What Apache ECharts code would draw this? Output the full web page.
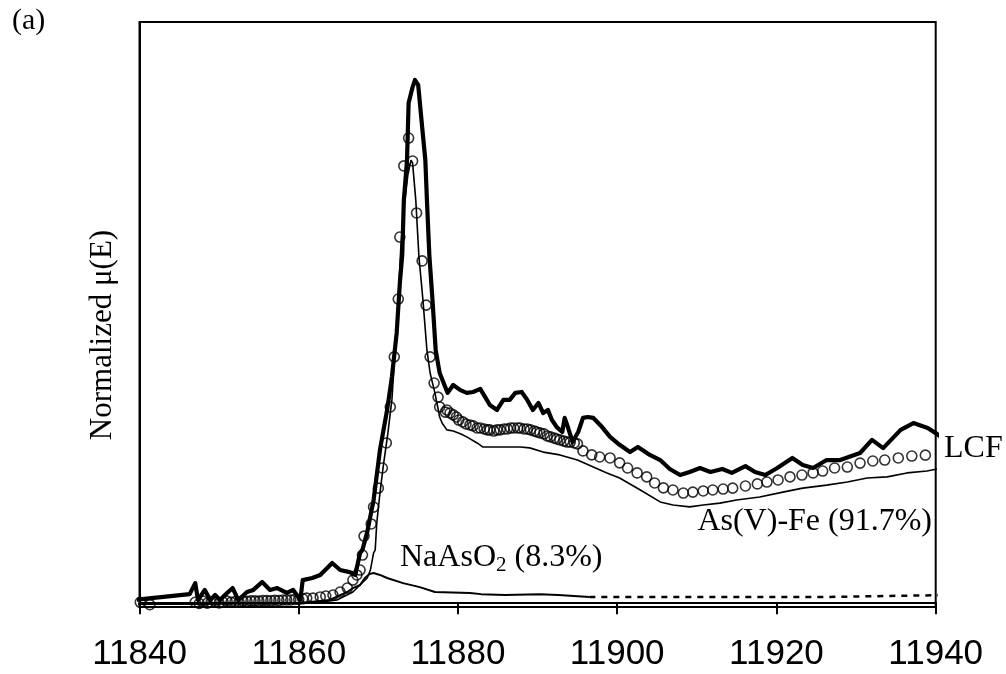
<!DOCTYPE html>
<html>
<head>
<meta charset="utf-8">
<script src="https://cdn.jsdelivr.net/npm/echarts@6/dist/echarts.min.js"></script>
<style>html,body{margin:0;padding:0;background:#fff}#c{width:1006px;height:674px}</style>
</head>
<body>
<div id="c"></div>
<script>
// X tick labels (eV)
const xTicks = [11840, 11860, 11880, 11900, 11920, 11940];

// Sample spectrum (thick solid line): [energy eV, normalized mu(E)]
const sampleData = [
 [11839.2,0.01],[11846.3,0.035],[11847.0,0.082],[11847.35,0.01],[11848.2,0.053],[11848.9,0.01],
 [11849.5,0.031],[11850.1,0.01],[11851.0,0.04],[11851.7,0.061],[11852.4,0.01],[11853.5,0.044],
 [11854.3,0.053],[11855.4,0.087],[11856.4,0.053],[11857.3,0.061],[11858.5,0.04],[11859.3,0.053],
 [11860.2,0.01],[11860.5,0.095],[11861.7,0.104],[11862.7,0.117],[11864.2,0.168],[11865.2,0.138],
 [11866.4,0.129],[11867.1,0.117],[11867.7,0.211],[11868.0,0.224],[11868.6,0.30],[11869.4,0.437],
 [11870.2,0.651],[11871.1,0.822],[11871.7,0.963],[11872.3,1.151],[11872.7,1.365],[11873.0,1.485],
 [11873.2,1.719],[11873.6,1.890],[11873.8,2.134],[11874.3,2.202],[11874.6,2.232],[11875.0,2.211],
 [11875.1,2.176],[11875.5,2.031],[11875.9,1.890],[11876.1,1.719],[11876.4,1.485],[11876.8,1.292],
 [11877.2,1.078],[11877.7,0.980],[11878.4,0.920],[11878.7,0.895],[11879.4,0.929],[11880.3,0.907],
 [11881.1,0.895],[11881.9,0.899],[11882.8,0.912],[11883.4,0.878],[11884.0,0.843],[11884.9,0.822],
 [11885.7,0.865],[11886.5,0.865],[11887.2,0.895],[11888.0,0.899],[11888.7,0.865],[11889.4,0.822],
 [11890.1,0.852],[11890.7,0.809],[11891.3,0.822],[11891.8,0.779],[11892.4,0.749],[11893.1,0.728],
 [11893.4,0.788],[11893.8,0.749],[11894.4,0.685],[11895.1,0.728],[11895.7,0.788],[11896.3,0.792],
 [11897.0,0.788],[11898.1,0.749],[11899.1,0.707],[11900.3,0.673],[11901.6,0.642],[11902.6,0.664],
 [11904.1,0.630],[11905.4,0.608],[11906.6,0.570],[11907.9,0.544],[11909.1,0.557],[11910.4,0.574],
 [11911.7,0.557],[11913.2,0.570],[11914.4,0.553],[11916.1,0.582],[11917.3,0.557],[11918.6,0.544],
 [11920.1,0.574],[11922.0,0.617],[11923.3,0.587],[11924.6,0.574],[11926.3,0.608],[11928.0,0.608],
 [11930.5,0.638],[11932.0,0.694],[11933.4,0.659],[11935.6,0.737],[11937.2,0.766],[11939.0,0.745],
 [11940.0,0.723],[11940.7,0.707]
];

// LCF fit (open circles)
const lcfData = [
 [11840.1,0.0],[11841.3,-0.01],[11847.0,0.0],[11847.5,-0.005],[11848.0,0.005],[11848.5,-0.004],
 [11849.0,0.0],[11849.5,0.004],[11850.0,-0.003],[11850.5,0.0],[11851.0,0.005],[11851.5,0.0],
 [11852.0,0.003],[11852.5,0.0],[11853.0,0.005],[11853.5,0.004],[11854.0,0.006],[11854.5,0.006],
 [11855.0,0.005],[11855.5,0.008],[11856.0,0.008],[11856.5,0.007],[11857.0,0.009],[11857.5,0.008],
 [11858.0,0.01],[11858.5,0.01],[11859.0,0.01],[11859.5,0.012],[11860.0,0.012],[11860.5,0.015],
 [11861.0,0.018],[11861.8,0.018],[11862.7,0.023],[11863.4,0.027],[11864.3,0.031],[11865.2,0.044],
 [11866.1,0.061],[11866.8,0.095],[11867.3,0.117],[11867.7,0.138],[11868.0,0.202],[11868.2,0.283],
 [11869.1,0.335],[11869.4,0.407],[11870.0,0.488],[11870.5,0.574],[11871.0,0.681],[11871.5,0.835],
 [11872.0,1.049],[11872.5,1.296],[11872.7,1.561],[11873.2,1.865],[11873.8,1.984],[11874.3,1.886],
 [11874.8,1.664],[11875.5,1.459],[11876.0,1.270],[11876.5,1.049],[11877.0,0.937],[11877.5,0.877],
 [11877.7,0.835],[11878.4,0.813],[11878.6,0.822],[11879.0,0.809],[11879.4,0.801],[11879.8,0.792],
 [11880.1,0.779],[11880.6,0.771],[11881.0,0.762],[11881.5,0.758],[11881.9,0.754],[11882.4,0.745],
 [11882.8,0.745],[11883.3,0.741],[11883.7,0.737],[11884.0,0.737],[11884.5,0.732],[11884.9,0.737],
 [11885.3,0.737],[11885.8,0.741],[11886.2,0.741],[11886.6,0.745],[11887.0,0.745],[11887.5,0.745],
 [11887.8,0.745],[11888.3,0.741],[11888.7,0.741],[11889.1,0.737],[11889.6,0.732],[11889.9,0.728],
 [11890.3,0.724],[11890.8,0.720],[11891.2,0.711],[11891.6,0.707],[11892.1,0.702],[11892.4,0.698],
 [11892.8,0.694],[11893.3,0.689],[11893.7,0.685],[11894.1,0.685],[11894.6,0.681],[11895.0,0.677],
 [11895.7,0.647],[11896.8,0.630],[11897.8,0.621],[11899.1,0.617],[11900.3,0.596],[11901.3,0.574],
 [11902.5,0.553],[11903.7,0.536],[11904.7,0.510],[11905.8,0.489],[11907.0,0.480],[11908.3,0.467],
 [11909.5,0.471],[11910.8,0.476],[11912.0,0.480],[11913.3,0.484],[11914.5,0.488],[11916.1,0.497],
 [11917.6,0.506],[11918.8,0.514],[11920.2,0.523],[11921.7,0.536],[11923.2,0.544],[11924.6,0.553],
 [11925.8,0.561],[11927.3,0.574],[11928.9,0.578],[11930.5,0.595],[11932.1,0.604],[11933.6,0.608],
 [11935.3,0.617],[11937.0,0.625],[11938.7,0.629]
];

// As(V)-Fe reference, weighted 91.7% (thin solid line)
const asvData = [
 [11839.2,-0.007],[11860.2,-0.003],[11862.7,0.001],[11864.8,0.01],[11866.8,0.044],[11867.7,0.074],
 [11868.6,0.104],[11869.0,0.138],[11869.4,0.211],[11869.6,0.223],[11869.8,0.339],[11870.2,0.467],
 [11870.6,0.578],[11871.2,0.724],[11871.7,0.865],[11872.1,1.078],[11872.5,1.292],[11872.8,1.506],
 [11873.2,1.677],[11873.7,1.826],[11874.1,1.890],[11874.3,1.877],[11874.7,1.719],[11875.1,1.475],
 [11875.6,1.292],[11876.1,1.078],[11876.5,0.980],[11877.1,0.895],[11877.7,0.792],[11878.0,0.766],
 [11878.6,0.737],[11879.4,0.732],[11880.3,0.720],[11881.1,0.707],[11882.4,0.681],[11883.1,0.664],
 [11884.4,0.664],[11886.2,0.664],[11887.8,0.664],[11889.0,0.660],[11890.7,0.642],[11892.8,0.630],
 [11895.0,0.608],[11897.0,0.578],[11898.7,0.553],[11900.3,0.531],[11902.9,0.480],[11905.4,0.429],
 [11907.0,0.416],[11909.1,0.408],[11910.8,0.416],[11912.9,0.424],[11915.0,0.437],[11917.9,0.450],
 [11920.8,0.471],[11923.3,0.488],[11926.3,0.501],[11928.9,0.514],[11931.4,0.531],[11933.9,0.536],
 [11936.4,0.553],[11938.9,0.561],[11940.2,0.570]
];

// NaAsO2 reference, weighted 8.3% (dashed line)
const naData = [
 [11839.2,-0.007],[11847.6,-0.007],[11860.2,-0.003],[11863.9,0.01],[11866.1,0.044],[11866.8,0.061],
 [11867.7,0.074],[11868.3,0.104],[11868.9,0.121],[11869.4,0.125],[11870.2,0.117],[11871.1,0.104],
 [11873.1,0.082],[11875.2,0.065],[11877.1,0.044],[11881.5,0.040],[11882.9,0.035],[11885.9,0.031],
 [11890.3,0.035],[11892.6,0.031],[11896.5,0.023],[11926.5,0.023],[11926.7,0.031],[11941.2,0.031]
];
const naSplit = 11896.5; // dense (solid-looking) part ends here

const serif = "'Liberation Serif','Times New Roman',serif";
const chart = echarts.init(document.getElementById('c'), null, {renderer: 'canvas'});
chart.setOption({
  backgroundColor: '#fff',
  animation: false,
  grid: {left: 139.5, right: 70.3, top: 22, bottom: 67, show: true, borderColor: '#000', borderWidth: 2, backgroundColor: 'transparent'},
  xAxis: {
    type: 'value', min: xTicks[0], max: xTicks[xTicks.length - 1], interval: xTicks[1] - xTicks[0],
    axisLine: {show: true, lineStyle: {color: '#000', width: 2}},
    axisTick: {show: true, inside: false, length: 12, lineStyle: {color: '#000', width: 2}},
    axisLabel: {color: '#000', fontSize: 35, fontFamily: "'Liberation Sans',Arial,sans-serif", margin: 30,
      formatter: v => String(v)},
    splitLine: {show: false}
  },
  yAxis: {
    type: 'value', min: -0.02, max: 2.48,
    axisLine: {show: true, lineStyle: {color: '#000', width: 2}},
    axisTick: {show: false}, axisLabel: {show: false}, splitLine: {show: false}
  },
  series: [
    {type: 'line', name: 'NaAsO2 solid', data: naData.filter(d => d[0] <= naSplit), showSymbol: false, symbol: 'none', clip: false,
     lineStyle: {color: '#000', width: 2}, z: 2},
    {type: 'line', name: 'NaAsO2 dashed', data: naData.filter(d => d[0] >= naSplit), showSymbol: false, symbol: 'none', clip: false,
     lineStyle: {color: '#000', width: 2.5, type: [6, 6]}, z: 2},
    {type: 'line', name: 'As(V)-Fe', data: asvData, showSymbol: false, symbol: 'none', clip: false,
     lineStyle: {color: '#000', width: 1.6}, z: 3},
    {type: 'line', name: 'Sample', data: sampleData, showSymbol: false, symbol: 'none', clip: false,
     lineStyle: {color: '#000', width: 4.2, join: 'round'}, z: 4},
    {type: 'scatter', name: 'LCF', data: lcfData, symbol: 'circle', symbolSize: 10, clip: false,
     itemStyle: {color: 'rgba(255,255,255,0)', borderColor: '#000', borderWidth: 1.6}, z: 5}
  ],
  graphic: [
    {type: 'text', left: 12, top: 6, style: {text: '(a)', fontFamily: serif, fontSize: 30, fill: '#000'}},
    {type: 'text', x: 103, y: 335, rotation: Math.PI / 2, style: {text: 'Normalized μ(E)', fontFamily: serif, fontSize: 31, fill: '#000', align: 'center', verticalAlign: 'middle'}},
    {type: 'text', left: 944, top: 433, style: {text: 'LCF', fontFamily: serif, fontSize: 32, fill: '#000'}},
    {type: 'text', right: 74, top: 506, style: {text: 'As(V)-Fe (91.7%)', fontFamily: serif, fontSize: 32, fill: '#000'}},
    {type: 'text', left: 400, top: 542, style: {
      text: '{a|NaAsO}{s|2}{a| (8.3%)}', fontFamily: serif, fill: '#000',
      rich: {a: {fontFamily: serif, fontSize: 32, fill: '#000'}, s: {fontFamily: serif, fontSize: 21, fill: '#000', padding: [14, 0, 0, 0]}}
    }}
  ]
});
</script>
</body>
</html>
